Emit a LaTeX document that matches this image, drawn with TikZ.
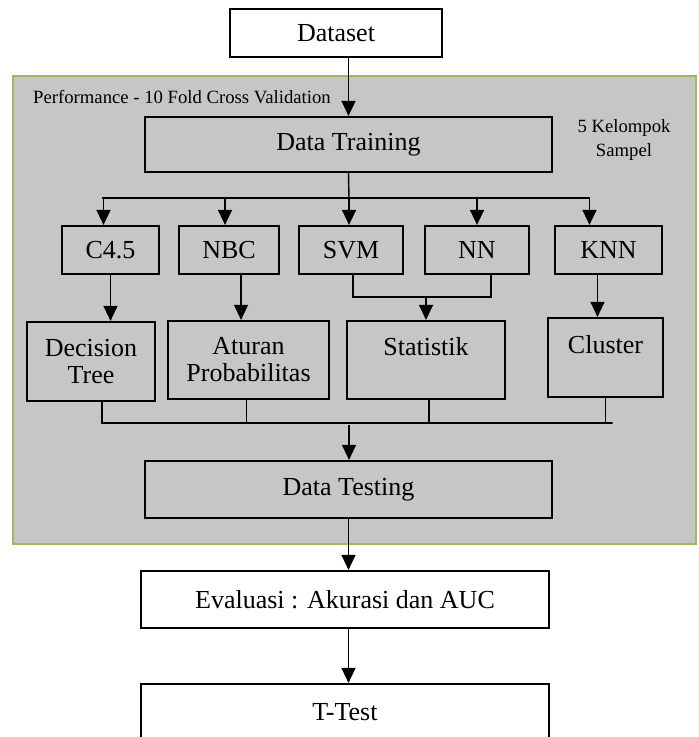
\documentclass[tikz,border=0pt]{standalone}
\usepackage{fontspec}
\setmainfont{Liberation Serif}
\usetikzlibrary{arrows.meta}
\definecolor{panelgray}{RGB}{198,198,198}
\definecolor{panelgreen}{RGB}{155,187,89}
\tikzset{box/.style={draw=black, line width=2.2pt, inner sep=0pt, align=center, font=\fontsize{26}{27}\selectfont},
 conn/.style={black, line width=1.4pt},
 arr/.style={conn, -{Triangle[width=14pt,length=15pt]}},
 small/.style={font=\fontsize{18.7}{24}\selectfont, align=center, inner sep=0pt}}

\begin{document}
\begin{tikzpicture}[x=1pt,y=-1pt]
  \useasboundingbox (0,0) rectangle (699,737);
  \fill[white] (0,0) rectangle (699,737);
  % cross validation panel
  \draw[panelgreen, fill=panelgray, line width=2pt] (13,76) rectangle (696,544);
  \node[small, anchor=west] (perf) at (33,97) {Performance - 10 Fold Cross Validation};
  \node[small] (kel) at (624,140) {5 Kelompok\\Sampel};

  \node[box, fill=white, minimum width=212pt, minimum height=48pt] (dataset) at (336,33) {Dataset};
  \node[box, minimum width=407pt, minimum height=55pt] (training) at (348.5,144.5) {Data Training};

  % classifiers
  \node[box, minimum width=97pt,  minimum height=48pt] (c45) at (110.5,250) {C4.5};
  \node[box, minimum width=100pt, minimum height=48pt] (nbc) at (229,250) {NBC};
  \node[box, minimum width=104pt, minimum height=48pt] (svm) at (351,250) {SVM};
  \node[box, minimum width=104pt, minimum height=48pt] (nn)  at (477,250) {NN};
  \node[box, minimum width=107pt, minimum height=48pt] (knn) at (608.5,250) {KNN};

  % models
  \node[box, minimum width=128pt, minimum height=79pt] (dt)   at (91,361.5)   {Decision\\Tree};
  \node[box, minimum width=161pt, minimum height=78pt] (atp)  at (248.5,360)  {Aturan\\Probabilitas};
  \node[box, minimum width=158pt, minimum height=78pt] (stat) at (426,360)    {Statistik\\\mbox{}};
  \node[box, minimum width=115pt, minimum height=79pt] (cl)   at (605.5,357.5){Cluster\\\mbox{}};

  \node[box, minimum width=407pt, minimum height=57pt] (testing) at (348.5,489.5) {Data Testing};
  \node[box, fill=white, minimum width=408pt, minimum height=57pt] (eval)  at (345,599.5) {Evaluasi : Akurasi dan AUC};
  \node[box, fill=white, minimum width=408pt, minimum height=57pt] (ttest) at (345,712.5) {T-Test};

  \coordinate (bus) at (349,198);
  \coordinate (busb) at (349,423);

  \draw[arr] (dataset.south -| training.north) -- (training.north);
  \draw[conn] (training.south) -- (bus);
  \draw[conn] (102,198) -- (589,198);
  \draw[arr] (bus) -| ([xshift=-7pt]c45.north);
  \draw[arr] (bus) -| ([xshift=-4pt]nbc.north);
  \draw[arr] (bus) -- (svm.north -| bus);
  \draw[arr] (bus) -| (nn.north);
  \draw[arr] (bus) -| ([xshift=-19pt]knn.north);

  \draw[arr] (c45.south) -- (c45.south |- dt.north);
  \draw[arr] ([xshift=12pt]nbc.south) -- ([xshift=12pt]nbc.south |- atp.north);
  \draw[conn] ([xshift=2pt]svm.south) -- ++(0,22) -| ([xshift=14pt]nn.south);
  \draw[arr] (stat.north |- 0,296) -- (stat.north);
  \draw[arr] ([xshift=-11pt]knn.south) -- ([xshift=-11pt]knn.south |- cl.north);

  \draw[conn] ([xshift=11pt]dt.south) |- (busb);
  \draw[conn] ([xshift=-2pt]atp.south) |- (busb);
  \draw[conn] ([xshift=3pt]stat.south) |- (busb);
  \draw[conn] (cl.south) |- ([xshift=7pt]cl.south |- busb) -- (busb);
  \draw[arr] (busb) ++(0,2) -- (testing.north -| busb);

  \draw[arr] (testing.south) -- (testing.south |- eval.north);
  \draw[arr] (testing.south |- eval.south) -- (testing.south |- ttest.north);
\end{tikzpicture}
\end{document}
